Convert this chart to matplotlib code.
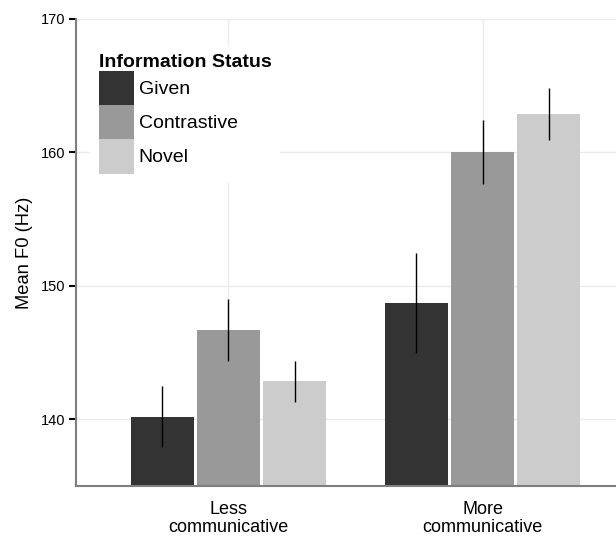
import matplotlib
matplotlib.use("Agg")
import matplotlib.pyplot as plt
import numpy as np
from matplotlib.patches import Patch

plt.rcParams['font.family'] = ['Liberation Sans', 'DejaVu Sans']

groups = ["Less\ncommunicative", "More\ncommunicative"]
statuses = ["Given", "Contrastive", "Novel"]
colors = ["#333333", "#999999", "#cccccc"]

# mean F0 per group, one list per information status
means = {
    "Given": [140.2, 148.7],
    "Contrastive": [146.7, 160.05],
    "Novel": [142.85, 162.85],
}
errs = {
    "Given": [2.3, 3.75],
    "Contrastive": [2.3, 2.4],
    "Novel": [1.55, 1.95],
}

fig = plt.figure(figsize=(6.16, 5.37), dpi=100)
# axes run past the right edge of the figure
ax = fig.add_axes([76/616, 1 - 486/537, (635-76)/616, (486-19)/537])

x = np.arange(1, len(groups) + 1)
width = 0.247
pitch = 0.261
for i, s in enumerate(statuses):
    pos = x + (i - 1) * pitch
    ax.bar(pos, means[s], width=width, color=colors[i], zorder=2)
    ax.errorbar(pos, means[s], yerr=errs[s], fmt='none', ecolor='black',
                elinewidth=1, capsize=0, zorder=3)

ax.set_xlim(0.4, 2.6)
ax.set_ylim(135, 170)
ax.set_yticks([140, 150, 160, 170])
ax.set_xticks(x)
ax.set_xticklabels(groups, fontsize=13, linespacing=1.05)
ax.tick_params(axis='x', length=0, pad=11)
ax.tick_params(axis='y', length=5, width=1.5, labelsize=10.5, pad=3, color='black')

ax.grid(True, color='#ebebeb', linewidth=1, zorder=0)
ax.set_axisbelow(True)
for side in ['top', 'right']:
    ax.spines[side].set_visible(False)
for side in ['left', 'bottom']:
    ax.spines[side].set_color('#7f7f7f')
    ax.spines[side].set_linewidth(1.5)

ax.set_ylabel("Mean F0 (Hz)", fontsize=13.2, labelpad=5)

handles = [Patch(facecolor=c, edgecolor='none') for c in colors]
leg = ax.legend(handles, statuses, title="Information Status", loc='upper left',
                bbox_to_anchor=(0.025, 0.944), frameon=True, fontsize=14,
                title_fontsize=14, handlelength=1.8, handleheight=2.33,
                handletextpad=0.25, labelspacing=0.0, borderpad=0.45,
                borderaxespad=0)
leg.get_frame().set_edgecolor('none')
leg.get_frame().set_facecolor('white')
leg.get_frame().set_alpha(1)
leg.get_frame().set_boxstyle('square', pad=0)
leg.get_title().set_fontweight('bold')
leg._legend_box.align = "left"

fig.savefig("out.png", dpi=100)
